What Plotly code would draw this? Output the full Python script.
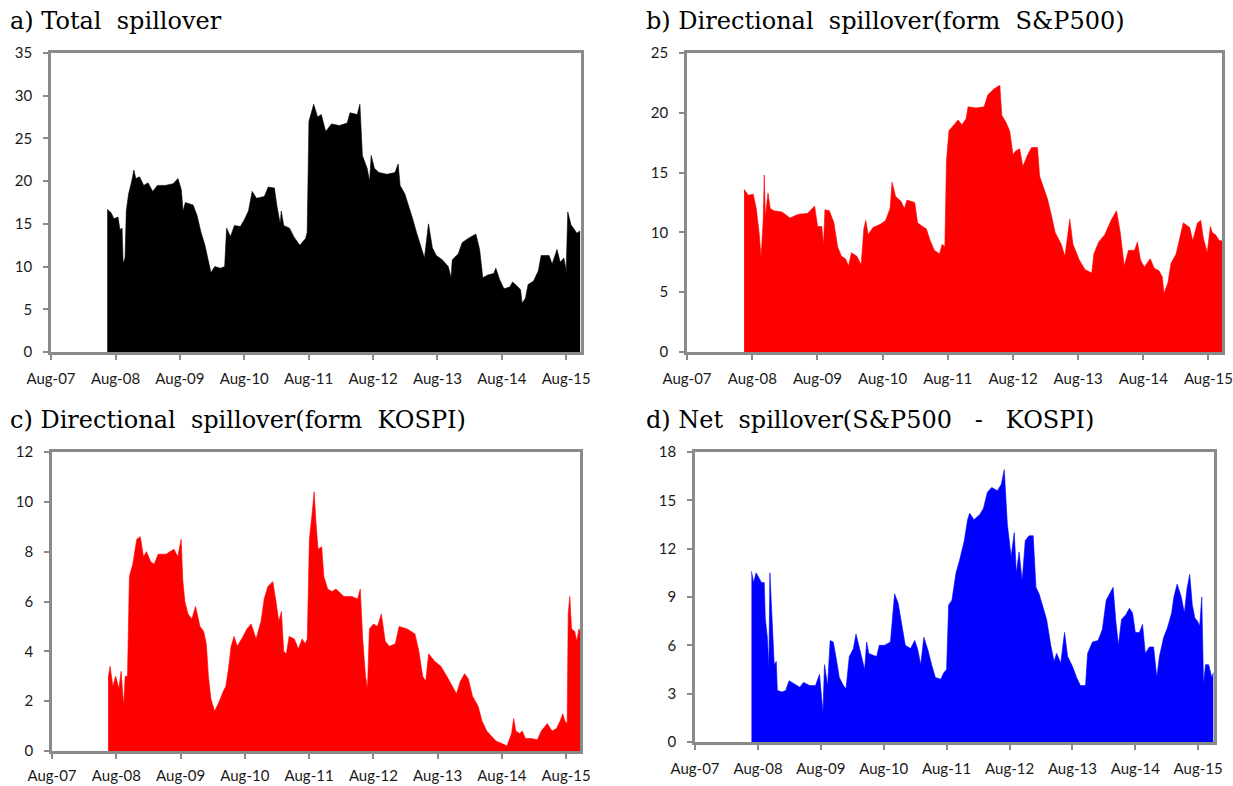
import plotly.graph_objects as go

# ---------------- data ----------------
tick_dates = ["2007-08-01", "2008-08-01", "2009-08-01", "2010-08-01", "2011-08-01",
              "2012-08-01", "2013-08-01", "2014-08-01", "2015-08-01"]
tick_labels = ["Aug-07", "Aug-08", "Aug-09", "Aug-10", "Aug-11",
               "Aug-12", "Aug-13", "Aug-14", "Aug-15"]

titles = ["a)\u00a0Total\u00a0\u00a0spillover",
          "b)\u00a0Directional\u00a0\u00a0spillover(form\u00a0\u00a0S&P500)",
          "c)\u00a0Directional\u00a0\u00a0spillover(form\u00a0\u00a0KOSPI)",
          "d)\u00a0Net\u00a0\u00a0spillover(S&P500\u00a0\u00a0\u00a0-\u00a0\u00a0\u00a0KOSPI)"]

dates_total = [
    "2008-06-15", "2008-07-07", "2008-07-23", "2008-08-15", "2008-08-26", "2008-09-07", "2008-09-13", "2008-09-24", "2008-10-01", "2008-10-14",
    "2008-11-02", "2008-11-13", "2008-11-24", "2008-12-15", "2009-01-08", "2009-02-01", "2009-02-28", "2009-03-26", "2009-05-10", "2009-06-24",
    "2009-07-21", "2009-08-09", "2009-08-19", "2009-09-01", "2009-10-15", "2009-11-06", "2009-11-29", "2009-12-21", "2010-01-06", "2010-01-24",
    "2010-02-15", "2010-03-19", "2010-04-12", "2010-04-23", "2010-05-15", "2010-06-06", "2010-07-10", "2010-08-02", "2010-08-25", "2010-09-15",
    "2010-10-09", "2010-11-23", "2010-12-15", "2011-01-19", "2011-02-03", "2011-02-21", "2011-02-27", "2011-03-13", "2011-04-15", "2011-05-09",
    "2011-06-12", "2011-07-15", "2011-07-24", "2011-08-03", "2011-08-30", "2011-09-21", "2011-10-12", "2011-11-06", "2011-12-09", "2012-01-23",
    "2012-03-07", "2012-03-23", "2012-05-03", "2012-05-18", "2012-06-01", "2012-06-28", "2012-07-12", "2012-07-21", "2012-08-08", "2012-09-03",
    "2012-10-18", "2012-12-03", "2012-12-21", "2013-01-01", "2013-01-28", "2013-02-21", "2013-03-13", "2013-04-04", "2013-04-28", "2013-05-19",
    "2013-06-11", "2013-07-03", "2013-07-25", "2013-08-28", "2013-10-01", "2013-10-17", "2013-10-24", "2013-11-27", "2013-12-19", "2014-01-22",
    "2014-03-07", "2014-03-28", "2014-04-15", "2014-05-13", "2014-06-16", "2014-06-28", "2014-07-19", "2014-08-13", "2014-09-15", "2014-10-01",
    "2014-11-01", "2014-11-15", "2014-11-24", "2014-12-13", "2014-12-28", "2015-01-28", "2015-02-24", "2015-03-12", "2015-04-26", "2015-05-13",
    "2015-06-10", "2015-06-28", "2015-07-19", "2015-08-01", "2015-08-10", "2015-08-28", "2015-10-01", "2015-10-19"]
total_spill = [
    16.7, 16.3, 15.6, 15.8, 14.3, 14.5, 10.4, 11, 16.5, 18.5,
    20.1, 21.3, 20.3, 20.5, 19.5, 19.8, 18.8, 19.5, 19.5, 19.7,
    20.3, 19, 16.5, 17.5, 17.2, 16, 14, 12.5, 11, 9.3,
    10, 9.8, 10, 14.5, 13.5, 14.8, 14.7, 15.5, 16.5, 18.8,
    18, 18.2, 19.3, 19.2, 17, 15, 16.5, 14.8, 14.5, 13.5,
    12.5, 13.3, 14, 27, 29, 27.5, 27.8, 25.8, 26.7, 26.5,
    26.8, 28, 27.8, 29, 23, 21.5, 20, 23, 21.5, 21,
    20.8, 21, 22, 19.5, 18.5, 17, 15.6, 14, 12.5, 11,
    15, 12.2, 11.3, 10.8, 10, 8.7, 10.8, 11.5, 12.8, 13.3,
    13.8, 12, 8.7, 9, 9.2, 9.8, 8.5, 7.4, 7.6, 8.2,
    7.6, 7.3, 5.7, 6.3, 7.9, 8.3, 9.5, 11.3, 11.3, 10.3,
    12, 10.5, 11, 9.5, 16.4, 14.9, 13.9, 14.2]

dates_sp = [
    "2008-06-16", "2008-07-10", "2008-08-06", "2008-08-23", "2008-09-08", "2008-09-19", "2008-10-01", "2008-10-07", "2008-10-13", "2008-10-28",
    "2008-11-09", "2008-12-01", "2009-01-15", "2009-02-28", "2009-04-13", "2009-06-07", "2009-07-16", "2009-08-02", "2009-08-25", "2009-09-04",
    "2009-09-12", "2009-10-07", "2009-11-01", "2009-11-22", "2009-12-13", "2010-01-05", "2010-01-22", "2010-02-08", "2010-03-10", "2010-04-03",
    "2010-04-18", "2010-04-29", "2010-05-12", "2010-06-08", "2010-07-22", "2010-08-18", "2010-09-12", "2010-09-23", "2010-10-13", "2010-11-12",
    "2010-12-01", "2010-12-16", "2011-01-28", "2011-02-13", "2011-03-13", "2011-04-03", "2011-04-25", "2011-05-18", "2011-06-16", "2011-07-01",
    "2011-07-16", "2011-07-25", "2011-08-08", "2011-09-06", "2011-09-28", "2011-10-20", "2011-11-12", "2011-11-23", "2012-01-07", "2012-02-21",
    "2012-03-13", "2012-04-16", "2012-05-19", "2012-05-30", "2012-06-22", "2012-07-13", "2012-08-01", "2012-08-16", "2012-09-07", "2012-09-25",
    "2012-10-22", "2012-11-13", "2012-12-16", "2012-12-28", "2013-01-19", "2013-02-10", "2013-03-03", "2013-03-25", "2013-04-28", "2013-05-19",
    "2013-06-15", "2013-07-03", "2013-08-07", "2013-09-08", "2013-10-16", "2013-10-28", "2013-11-24", "2013-12-28", "2014-02-01", "2014-03-04",
    "2014-03-25", "2014-04-16", "2014-05-10", "2014-06-13", "2014-06-29", "2014-07-16", "2014-08-07", "2014-09-09", "2014-10-01", "2014-10-28",
    "2014-11-15", "2014-11-25", "2014-12-17", "2015-01-03", "2015-02-01", "2015-02-22", "2015-03-13", "2015-04-18", "2015-05-05", "2015-06-01",
    "2015-06-19", "2015-07-04", "2015-07-25", "2015-08-12", "2015-08-22", "2015-09-10", "2015-10-01", "2015-10-16"]
from_sp500 = [
    13.6, 13.1, 13.2, 12, 10, 7.9, 11, 14.8, 11.3, 13.3,
    12, 11.8, 11.7, 11.2, 11.5, 11.6, 12.2, 10.5, 10.5, 9,
    11.9, 11.8, 10.8, 8.8, 8, 7.8, 7.2, 8.3, 8, 7.3,
    10.3, 11, 9.8, 10.4, 10.7, 11, 12, 14.2, 13, 12.6,
    12, 12.7, 12.5, 10.8, 10.5, 10.3, 9.3, 8.5, 8.2, 9,
    8.8, 16, 18.5, 19, 19.4, 19, 19.5, 20.5, 20.4, 20.5,
    21.5, 22, 22.3, 19.8, 19.2, 18.5, 16.5, 16.8, 17, 15.5,
    16.5, 17.1, 17.1, 14.7, 13.8, 12.8, 11.5, 10, 9, 8,
    11.1, 9, 7.7, 6.9, 6.6, 8.2, 9.2, 9.8, 11, 11.8,
    10, 7.2, 8.5, 8.5, 9.2, 7.7, 7.1, 7.8, 7, 6.8,
    6.3, 4.9, 5.8, 7.4, 8.2, 9.5, 10.8, 10.4, 9.3, 10.8,
    11, 9.5, 8.3, 10.5, 10, 9.8, 9.3, 9.3]

dates_ks = [
    "2008-06-15", "2008-06-26", "2008-07-12", "2008-07-28", "2008-08-15", "2008-08-28", "2008-09-11", "2008-09-20", "2008-10-03", "2008-10-14",
    "2008-11-02", "2008-11-25", "2008-12-15", "2009-01-02", "2009-01-19", "2009-02-12", "2009-03-04", "2009-03-26", "2009-05-10", "2009-06-24",
    "2009-07-16", "2009-08-04", "2009-08-13", "2009-08-25", "2009-09-12", "2009-10-04", "2009-10-25", "2009-11-19", "2009-12-10", "2009-12-25",
    "2010-01-06", "2010-01-20", "2010-02-10", "2010-03-03", "2010-04-01", "2010-04-15", "2010-04-30", "2010-05-15", "2010-06-01", "2010-06-19",
    "2010-07-22", "2010-08-13", "2010-09-06", "2010-10-04", "2010-11-01", "2010-11-19", "2010-12-10", "2011-01-07", "2011-01-25", "2011-02-10",
    "2011-02-25", "2011-03-10", "2011-03-25", "2011-04-10", "2011-05-09", "2011-06-01", "2011-06-23", "2011-07-10", "2011-07-22", "2011-08-03",
    "2011-08-18", "2011-08-30", "2011-09-09", "2011-09-21", "2011-10-12", "2011-10-24", "2011-11-15", "2011-12-09", "2012-01-01", "2012-02-15",
    "2012-04-01", "2012-05-03", "2012-05-18", "2012-06-01", "2012-06-17", "2012-06-28", "2012-07-09", "2012-08-01", "2012-08-24", "2012-09-15",
    "2012-10-07", "2012-10-31", "2012-12-03", "2012-12-25", "2013-02-09", "2013-03-25", "2013-04-16", "2013-05-08", "2013-05-25", "2013-06-11",
    "2013-07-15", "2013-08-19", "2013-09-22", "2013-10-25", "2013-11-16", "2013-12-08", "2014-01-01", "2014-01-22", "2014-02-15", "2014-03-19",
    "2014-04-10", "2014-05-07", "2014-06-05", "2014-06-28", "2014-08-01", "2014-08-30", "2014-09-25", "2014-10-07", "2014-10-19", "2014-11-10",
    "2014-11-25", "2014-12-13", "2015-01-16", "2015-02-19", "2015-03-13", "2015-04-16", "2015-05-13", "2015-06-07", "2015-06-28", "2015-07-13",
    "2015-07-25", "2015-08-07", "2015-08-13", "2015-08-22", "2015-09-01", "2015-09-19", "2015-10-01", "2015-10-13", "2015-10-19"]
from_kospi = [
    2.9, 3.4, 2.6, 3, 2.5, 3.2, 1.8, 3, 3, 7,
    7.5, 8.5, 8.6, 7.8, 8, 7.6, 7.5, 7.9, 7.9, 8.1,
    7.8, 8.5, 6.9, 6, 5.5, 5.3, 5.8, 5, 4.8, 4.3,
    3, 2.1, 1.6, 1.9, 2.4, 2.6, 3.3, 4.2, 4.6, 4.2,
    4.6, 4.9, 5.1, 4.5, 5.2, 6.1, 6.6, 6.8, 6, 5.2,
    5.6, 4, 3.9, 4.6, 4.5, 4.1, 4.5, 4.3, 4.5, 8.5,
    9.5, 10.4, 9.2, 8.1, 8.2, 7, 6.5, 6.4, 6.5, 6.2,
    6.2, 6.1, 6.5, 4.5, 3, 2.5, 4.9, 5.1, 5, 5.5,
    4.4, 4.2, 4.3, 5, 4.9, 4.7, 4, 3, 2.8, 3.9,
    3.6, 3.4, 3, 2.6, 2.3, 2.8, 3.1, 2.9, 2.2, 1.8,
    1.2, 0.8, 0.6, 0.4, 0.3, 0.2, 0.7, 1.3, 0.8, 0.7,
    0.8, 0.5, 0.5, 0.45, 0.8, 1.1, 0.8, 0.9, 1.2, 1.5,
    1.2, 1.1, 5.5, 6.2, 4.9, 4.8, 4.4, 4.9, 4.8]

dates_net = [
    "2008-06-24", "2008-07-06", "2008-07-21", "2008-08-06", "2008-08-21", "2008-09-06", "2008-09-12", "2008-09-24", "2008-10-03", "2008-10-09",
    "2008-10-21", "2008-11-03", "2008-11-15", "2008-11-21", "2008-12-18", "2009-01-09", "2009-01-28", "2009-02-26", "2009-04-01", "2009-04-22",
    "2009-05-28", "2009-07-01", "2009-07-24", "2009-08-09", "2009-08-13", "2009-08-22", "2009-09-09", "2009-09-24", "2009-10-12", "2009-11-01",
    "2009-11-16", "2009-12-10", "2009-12-25", "2010-01-13", "2010-02-06", "2010-02-21", "2010-03-10", "2010-04-02", "2010-04-12", "2010-04-24",
    "2010-05-06", "2010-05-28", "2010-06-21", "2010-07-06", "2010-08-06", "2010-09-09", "2010-10-03", "2010-10-24", "2010-11-19", "2010-12-04",
    "2011-01-04", "2011-01-28", "2011-02-13", "2011-03-04", "2011-03-22", "2011-04-15", "2011-05-06", "2011-05-28", "2011-06-28", "2011-07-16",
    "2011-08-01", "2011-08-13", "2011-09-01", "2011-09-25", "2011-10-16", "2011-11-12", "2011-12-01", "2011-12-13", "2012-01-07", "2012-02-09",
    "2012-03-02", "2012-03-25", "2012-04-19", "2012-05-22", "2012-06-14", "2012-07-01", "2012-07-19", "2012-08-10", "2012-08-28", "2012-09-09",
    "2012-09-25", "2012-10-13", "2012-10-31", "2012-11-22", "2012-12-16", "2013-01-01", "2013-01-19", "2013-02-13", "2013-03-04", "2013-03-28",
    "2013-04-16", "2013-05-01", "2013-05-25", "2013-06-16", "2013-07-04", "2013-08-01", "2013-08-25", "2013-09-16", "2013-10-16", "2013-10-28",
    "2013-11-25", "2013-12-28", "2014-01-22", "2014-02-13", "2014-03-07", "2014-03-25", "2014-04-10", "2014-04-25", "2014-05-13", "2014-06-07",
    "2014-06-28", "2014-07-16", "2014-08-01", "2014-08-25", "2014-09-12", "2014-09-28", "2014-10-22", "2014-11-15", "2014-12-04", "2014-12-19",
    "2015-01-13", "2015-02-04", "2015-02-28", "2015-03-13", "2015-04-01", "2015-04-25", "2015-05-13", "2015-05-28", "2015-06-13", "2015-06-28",
    "2015-07-13", "2015-07-28", "2015-08-10", "2015-08-22", "2015-09-01", "2015-09-13", "2015-10-01", "2015-10-19", "2015-10-28"]
net_spill = [
    10.6, 9.9, 10.5, 10.2, 9.9, 9.9, 7.7, 6.5, 4.6, 10.5,
    8, 4.8, 5, 3.2, 3.1, 3.2, 3.8, 3.6, 3.4, 3.7,
    3.5, 3.5, 4.2, 2.3, 1.8, 4.8, 3.5, 6.3, 6.2, 5,
    4, 3.5, 3.3, 5.3, 5.8, 6.7, 6, 5, 4.5, 6.2,
    5.5, 5.4, 5.3, 6, 6, 6.2, 9.2, 8.6, 7, 6,
    5.8, 6.3, 5.8, 4.8, 6.5, 5.7, 4.8, 4, 3.9, 4.3,
    4.5, 8.5, 8.8, 10.5, 11.3, 12.5, 13.8, 14.2, 13.8, 14.1,
    14.5, 15.5, 15.8, 15.6, 16, 16.9, 13.5, 11.5, 13, 10.5,
    11.8, 10, 12.5, 12.8, 12.8, 9.6, 9.2, 8.3, 7.6, 6,
    5, 5.5, 4.9, 6.8, 5.3, 4.7, 4, 3.5, 3.5, 5.5,
    6.2, 6.3, 7, 8.8, 9.2, 9.6, 7.5, 6, 7.6, 7.9,
    8.3, 8, 6.8, 6.8, 7.3, 5.5, 5.9, 5.9, 4, 5.3,
    6.5, 7.1, 8, 9, 9.8, 9, 8, 9.5, 10.4, 8.5,
    7.7, 7.5, 7.2, 9, 3.6, 4.8, 4.8, 4, 4.3]

# ---------------- layout helpers ----------------
W, H = 1233, 786


def px_x(a, b):
    return [a / W, b / W]


def px_y(top, bottom):
    return [1 - bottom / H, 1 - top / H]


panels = [
    dict(xd=(51, 581), yd=(53, 352), xend="2015-10-24", ymax=35, dt=5,
         x=dates_total, y=total_spill, c="#000000", so=6),
    dict(xd=(687, 1222), yd=(53, 352), xend="2015-10-16", ymax=25, dt=5,
         x=dates_sp, y=from_sp500, c="#FF0000", so=6),
    dict(xd=(52, 580), yd=(452, 751), xend="2015-10-19", ymax=12, dt=2,
         x=dates_ks, y=from_kospi, c="#FF0000", so=4),
    dict(xd=(695, 1214), yd=(452, 742), xend="2015-11-01", ymax=18, dt=3,
         x=dates_net, y=net_spill, c="#0000FF", so=6),
]

fig = go.Figure()
axis_col = "#8a8a8a"
tick_font = dict(family="Lato, Carlito, 'Liberation Sans', sans-serif", size=15, color="#1a1a1a")

layout = dict(
    width=W, height=H,
    margin=dict(l=0, r=0, t=0, b=0, autoexpand=False),
    paper_bgcolor="white", plot_bgcolor="white",
    showlegend=False,
)

for i, p in enumerate(panels):
    n = "" if i == 0 else str(i + 1)
    fig.add_trace(go.Scatter(
        x=p["x"], y=p["y"], mode="lines",
        line=dict(color=p["c"], width=0.6),
        fill="tozeroy", fillcolor=p["c"],
        xaxis="x" + n, yaxis="y" + n, hoverinfo="x+y",
    ))
    layout["xaxis" + n] = dict(
        domain=px_x(*p["xd"]), anchor="y" + n, type="date",
        range=["2007-08-01", p["xend"]], automargin=False,
        tickmode="array", tickvals=tick_dates, ticktext=tick_labels,
        showgrid=False, zeroline=False,
        showline=True, linecolor=axis_col, linewidth=2.5, mirror=True,
        ticks="outside", ticklen=5, tickwidth=2, tickcolor=axis_col,
        tickfont=tick_font, ticklabelstandoff=p["so"],
    )
    layout["yaxis" + n] = dict(
        domain=px_y(*p["yd"]), anchor="x" + n, automargin=False,
        range=[0, p["ymax"]], tickmode="linear", tick0=0, dtick=p["dt"],
        showgrid=False, zeroline=False,
        showline=True, linecolor=axis_col, linewidth=2.5, mirror=True,
        ticks="outside", ticklen=5, tickwidth=2, tickcolor=axis_col,
        tickfont=tick_font, ticklabelstandoff=8,
    )

fig.update_layout(**layout)

title_font = dict(family="'DejaVu Serif', 'Liberation Serif', serif", size=24, color="#000000")
title_pos = [(8, 21), (644, 21), (8, 420), (644, 420)]
for t, (tx, ty) in zip(titles, title_pos):
    fig.add_annotation(text=t, xref="paper", yref="paper",
                       x=tx / W, y=1 - ty / H, xanchor="left", yanchor="middle",
                       showarrow=False, font=title_font)

fig.write_html("out.html")
